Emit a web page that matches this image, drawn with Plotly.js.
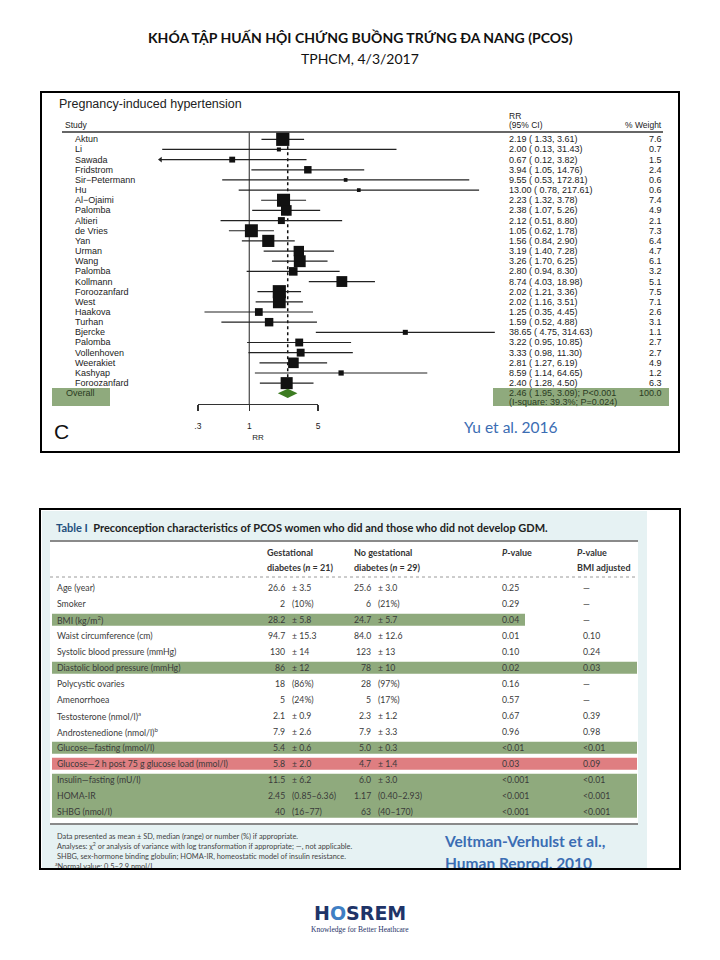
<!DOCTYPE html>
<html><head><meta charset="utf-8">
<script src="https://cdn.plot.ly/plotly-3.0.1.min.js"></script>
<style>html,body{margin:0;padding:0;background:#fff}#chart{width:720px;height:960px}</style>
</head><body><div id="chart"></div>
<script>
// ---------- Forest plot data (Pregnancy-induced hypertension, Yu et al. 2016) ----------
const studies = ['Aktun','Li','Sawada','Fridstrom','Sir\u2212Petermann','Hu','Al\u2212Ojaimi','Palomba','Altieri','de Vries','Yan','Urman','Wang','Palomba','Kollmann','Foroozanfard','West','Haakova','Turhan','Bjercke','Palomba','Vollenhoven','Weerakiet','Kashyap','Foroozanfard'];
const rr     = [2.19,2.00,0.67,3.94,9.55,13.00,2.23,2.38,2.12,1.05,1.56,3.19,3.26,2.80,8.74,2.02,2.02,1.25,1.59,38.65,3.22,3.33,2.81,8.59,2.40];
const ciLow  = [1.33,0.13,0.12,1.05,0.53,0.78,1.32,1.07,0.51,0.62,0.84,1.40,1.70,0.94,4.03,1.21,1.16,0.35,0.52,4.75,0.95,0.98,1.27,1.14,1.28];
const ciHigh = [3.61,31.43,3.82,14.76,172.81,217.61,3.78,5.26,8.80,1.78,2.90,7.28,6.25,8.30,18.98,3.36,3.51,4.45,4.88,314.63,10.85,11.30,6.19,64.65,4.50];
const weights = [7.6,0.7,1.5,2.4,0.6,0.6,7.4,4.9,2.1,7.3,6.4,4.7,6.1,3.2,5.1,7.5,7.1,2.6,3.1,1.1,2.7,2.7,4.9,1.2,6.3];
const overallRR = 2.46, overallLow = 1.95, overallHigh = 3.09;
const overallLine1 = '2.46 ( 1.95, 3.09); P<0.001';
const overallLine2 = '(I-square: 39.3%; P=0.024)';
const overallWeight = '100.0';
const xTickVals = [0.3, 1, 5];
const xTickText = ['.3', '1', '5'];
const xShownMin = 0.125;   // lower display limit of the original plot (arrow beyond)

// ---------- Table data (Veltman-Verhulst et al., Human Reprod. 2010) ----------
const tableRows = ['Age (year)','Smoker','BMI (kg/m<sup>2</sup>)','Waist circumference (cm)','Systolic blood pressure (mmHg)','Diastolic blood pressure (mmHg)','Polycystic ovaries','Amenorrhoea','Testosterone (nmol/l)<sup>a</sup>','Androstenedione (nmol/l)<sup>b</sup>','Glucose\u2014fasting (mmol/l)','Glucose\u20142 h post 75 g glucose load (mmol/l)','Insulin\u2014fasting (mU/l)','HOMA-IR','SHBG (nmol/l)'];
const gdmValues   = ['26.6 \u00b1 3.5','2 (10%)','28.2 \u00b1 5.8','94.7 \u00b1 15.3','130 \u00b1 14','86 \u00b1 12','18 (86%)','5 (24%)','2.1 \u00b1 0.9','7.9 \u00b1 2.6','5.4 \u00b1 0.6','5.8 \u00b1 2.0','11.5 \u00b1 6.2','2.45 (0.85\u20136.36)','40 (16\u201377)'];
const noGdmValues = ['25.6 \u00b1 3.0','6 (21%)','24.7 \u00b1 5.7','84.0 \u00b1 12.6','123 \u00b1 13','78 \u00b1 10','28 (97%)','5 (17%)','2.3 \u00b1 1.2','7.9 \u00b1 3.3','5.0 \u00b1 0.3','4.7 \u00b1 1.4','6.0 \u00b1 3.0','1.17 (0.40\u20132.93)','63 (40\u2013170)'];
const pValues     = ['0.25','0.29','0.04','0.01','0.10','0.02','0.16','0.57','0.67','0.96','<0.01','0.03','<0.001','<0.001','<0.001'];
const pAdjusted   = ['\u2014','\u2014','\u2014','0.10','0.24','0.03','\u2014','\u2014','0.39','0.98','<0.01','0.09','<0.01','<0.001','<0.001'];
const highlightRows = ['', '', 'greenPartial', '', '', 'green', '', '', '', '', 'green', 'red', 'green', 'green', 'green'];

// ---------- geometry / styles ----------
const W = 720, H = 960;
const px = x => x / W, py = y => 1 - y / H;
const F = {left: 150, right: 500, onePx: 249.3, perDecade: 98.3, top: 132, bottom: 404, row0: 139.3, rowH: 10.16};
const T = {top: 509, bottom: 869, row0: 587.7, rowH: 16};
const fForest = 'Liberation Sans, Arial, sans-serif';
const fTable = 'Lato, sans-serif';
const green = '#8faa7d', red = '#df7e81', blueBg = '#e6f2f3';
const n = studies.length;
const idx = studies.map((_, i) => i);
const overallRow = n;

const traces = [];
// CI lines + weighted squares
traces.push({
  type: 'scatter', mode: 'markers', x: rr, y: idx, xaxis: 'x', yaxis: 'y', hoverinfo: 'skip',
  marker: {symbol: 'square', color: '#111', opacity: 1, size: weights.map(w => 4.8 * Math.sqrt(w)), line: {width: 0}},
  error_x: {type: 'data', symmetric: false,
    array: ciHigh.map((h, i) => h - rr[i]),
    arrayminus: ciLow.map((l, i) => rr[i] - Math.max(l, xShownMin)),
    thickness: 1.2, width: 0, color: '#222'},
  cliponaxis: false
});
// arrows where CI is truncated
const cut = idx.filter(i => ciLow[i] < xShownMin);
traces.push({
  type: 'scatter', mode: 'markers', x: cut.map(() => xShownMin), y: cut, xaxis: 'x', yaxis: 'y', hoverinfo: 'skip',
  marker: {symbol: 'triangle-left', size: 5, color: '#222', opacity: 1}, cliponaxis: false
});
// overall diamond
const dh = 0.46;
traces.push({
  type: 'scatter', mode: 'lines', fill: 'toself', xaxis: 'x', yaxis: 'y', hoverinfo: 'skip',
  x: [overallLow, overallRR, overallHigh, overallRR, overallLow],
  y: [overallRow, overallRow - dh, overallRow, overallRow + dh, overallRow],
  fillcolor: '#3d7c22', line: {width: 0, color: '#3d7c22'}
});
// carrier for the tick axis
traces.push({type: 'scatter', mode: 'markers', x: [1], y: [0], xaxis: 'x3', yaxis: 'y', marker: {opacity: 0}, hoverinfo: 'skip'});

// clipped text in the table box (citation & last footnote cut by the frame)
traces.push({
  type: 'scatter', mode: 'text', xaxis: 'x2', yaxis: 'y2', cliponaxis: true, hoverinfo: 'skip',
  x: [445, 445], y: [843, 865.5], text: ['Veltman-Verhulst et al.,', 'Human Reprod. 2010'],
  textposition: 'middle right', textfont: {family: fTable, size: 15.5, color: '#3b6db3', weight: 'bold'}
});
traces.push({
  type: 'scatter', mode: 'text', xaxis: 'x2', yaxis: 'y2', cliponaxis: true, hoverinfo: 'skip',
  x: [55], y: [867], text: ['<sup>a</sup>Normal value: 0.5\u20132.9 nmol/l.'],
  textposition: 'middle right', textfont: {family: fTable, size: 7.4, color: '#444'}
});

// ---------- shapes ----------
const shapes = [];
// forest: header rule, null line, overall dotted line, overall green boxes
shapes.push({type: 'line', xref: 'paper', yref: 'paper', x0: px(62), x1: px(663), y0: py(F.top), y1: py(F.top), line: {color: '#333', width: 1.5}, layer: 'below'});
shapes.push({type: 'line', xref: 'x', yref: 'y domain', x0: 1, x1: 1, y0: 0, y1: 1, line: {color: '#555', width: 1.3}, layer: 'below'});
shapes.push({type: 'line', xref: 'x', yref: 'y', x0: overallRR, x1: overallRR, y0: -0.5, y1: overallRow, line: {color: '#111', width: 1.5, dash: 'dot'}, layer: 'below'});
shapes.push({type: 'rect', xref: 'paper', yref: 'paper', x0: px(52), x1: px(110), y0: py(406), y1: py(388), fillcolor: green, line: {width: 0}, layer: 'below'});
shapes.push({type: 'rect', xref: 'paper', yref: 'paper', x0: px(493), x1: px(669), y0: py(406), y1: py(388), fillcolor: green, line: {width: 0}, layer: 'below'});
// table background
shapes.push({type: 'rect', xref: 'x2', yref: 'y2', x0: 42, x1: 647, y0: 511, y1: 869, fillcolor: blueBg, line: {width: 0}, layer: 'below'});
shapes.push({type: 'rect', xref: 'x2', yref: 'y2', x0: 50, x1: 638, y0: 542, y1: 823, fillcolor: '#ffffff', line: {width: 0}, layer: 'below'});
// row highlights (consecutive rows of one kind merge into one band)
const rowY = i => T.row0 + T.rowH * i;
let i0 = 0;
while (i0 < highlightRows.length) {
  const k = highlightRows[i0];
  let i1 = i0;
  while (i1 + 1 < highlightRows.length && highlightRows[i1 + 1] === k) i1++;
  if (k) {
    shapes.push({type: 'rect', xref: 'x2', yref: 'y2', x0: 52, x1: k === 'greenPartial' ? 525 : 637,
      y0: rowY(i0) - 6, y1: rowY(i1) + 6, fillcolor: k === 'red' ? red : green, line: {width: 0}, layer: 'below'});
  }
  i0 = i1 + 1;
}
shapes.push({type: 'line', xref: 'x2', yref: 'y2', x0: 50, x1: 638, y0: 541, y1: 541, line: {color: '#8a8a8a', width: 2}, layer: 'below'});
shapes.push({type: 'line', xref: 'x2', yref: 'y2', x0: 50, x1: 638, y0: 577, y1: 577, line: {color: '#9a9a9a', width: 1, dash: 'dot'}, layer: 'below'});
shapes.push({type: 'line', xref: 'x2', yref: 'y2', x0: 50, x1: 638, y0: 824, y1: 824, line: {color: '#8a8a8a', width: 2}, layer: 'below'});
// frames
shapes.push({type: 'rect', xref: 'paper', yref: 'paper', x0: px(41), x1: px(679), y0: py(452), y1: py(92), line: {color: '#000', width: 2}, fillcolor: 'rgba(0,0,0,0)'});
shapes.push({type: 'rect', xref: 'paper', yref: 'paper', x0: px(40), x1: px(680), y0: py(869), y1: py(509), line: {color: '#000', width: 2}, fillcolor: 'rgba(0,0,0,0)'});

// ---------- annotations ----------
const ann = [];
const A = (o) => ann.push(Object.assign({showarrow: false, xanchor: 'left', yanchor: 'middle'}, o));
// slide header
A({xref: 'paper', yref: 'paper', x: 0.5, y: py(37), xanchor: 'center', text: '<b>KH\u00d3A T\u1eacP HU\u1ea4N H\u1ed8I CH\u1ee8NG BU\u1ed2NG TR\u1ee8NG \u0110A NANG (PCOS)</b>', font: {family: fTable, size: 14, color: '#111'}});
A({xref: 'paper', yref: 'paper', x: 0.5, y: py(58), xanchor: 'center', text: 'TPHCM, 4/3/2017', font: {family: fTable, size: 14, color: '#111'}});
// forest titles / headers
A({xref: 'paper', yref: 'paper', x: px(57), y: py(104), text: 'Pregnancy-induced hypertension', font: {family: fForest, size: 12.5, color: '#222'}});
A({xref: 'paper', yref: 'paper', x: px(63), y: py(125), text: 'Study', font: {family: fForest, size: 8.5, color: '#222'}});
A({xref: 'paper', yref: 'paper', x: px(507), y: py(116.5), text: 'RR', font: {family: fForest, size: 8.5, color: '#222'}});
A({xref: 'paper', yref: 'paper', x: px(507), y: py(125), text: '(95% CI)', font: {family: fForest, size: 8.5, color: '#222'}});
A({xref: 'paper', yref: 'paper', x: px(664), y: py(125), xanchor: 'right', text: '% Weight', font: {family: fForest, size: 8.5, color: '#222'}});
idx.forEach(i => {
  A({xref: 'paper', yref: 'y', x: px(73), y: i, text: studies[i], font: {family: fForest, size: 9, color: '#222'}});
  A({xref: 'paper', yref: 'y', x: px(507), y: i, text: `${rr[i].toFixed(2)} ( ${ciLow[i].toFixed(2)}, ${ciHigh[i].toFixed(2)})`, font: {family: fForest, size: 9, color: '#222'}});
  A({xref: 'paper', yref: 'y', x: px(664), y: i, xanchor: 'right', text: weights[i].toFixed(1), font: {family: fForest, size: 9, color: '#222'}});
});
A({xref: 'paper', yref: 'y', x: px(64), y: overallRow - 0.05, text: 'Overall', font: {family: fForest, size: 9, color: '#2a3a22'}});
A({xref: 'paper', yref: 'y', x: px(507), y: overallRow, text: overallLine1, font: {family: fForest, size: 9, color: '#2a3a22'}});
A({xref: 'paper', yref: 'y', x: px(507), y: overallRow + 0.83, text: overallLine2, font: {family: fForest, size: 9, color: '#2a3a22'}});
A({xref: 'paper', yref: 'y', x: px(664), y: overallRow, xanchor: 'right', text: overallWeight, font: {family: fForest, size: 9, color: '#2a3a22'}});
A({xref: 'paper', yref: 'paper', x: px(52), y: py(432), text: 'C', font: {family: fForest, size: 21, color: '#111'}});
A({xref: 'paper', yref: 'paper', x: px(462), y: py(427), text: 'Yu et al. 2016', font: {family: fTable, size: 15.5, color: '#3b6db3'}});

// table
const tf = (size, color) => ({family: fTable, size: size, color: color || '#3a3a3a'});
A({xref: 'x2', yref: 'y2', x: 54, y: 527, text: '<b><span style="color:#1f4f7d">Table I</span>\u2002Preconception characteristics of PCOS women who did and those who did not develop GDM.</b>', font: tf(11, '#222')});
A({xref: 'x2', yref: 'y2', x: 265, y: 552, text: '<b>Gestational</b>', font: tf(9, '#333')});
A({xref: 'x2', yref: 'y2', x: 265, y: 567, text: '<b>diabetes (<i>n</i> = 21)</b>', font: tf(9, '#333')});
A({xref: 'x2', yref: 'y2', x: 352, y: 552, text: '<b>No gestational</b>', font: tf(9, '#333')});
A({xref: 'x2', yref: 'y2', x: 352, y: 567, text: '<b>diabetes (<i>n</i> = 29)</b>', font: tf(9, '#333')});
A({xref: 'x2', yref: 'y2', x: 500, y: 552, text: '<b><i>P</i>-value</b>', font: tf(9, '#333')});
A({xref: 'x2', yref: 'y2', x: 575, y: 552, text: '<b><i>P</i>-value</b>', font: tf(9, '#333')});
A({xref: 'x2', yref: 'y2', x: 575, y: 567, text: '<b>BMI adjusted</b>', font: tf(9, '#333')});
const split = s => { const k = s.indexOf(' '); return [s.slice(0, k), s.slice(k + 1)]; };
tableRows.forEach((lab, i) => {
  const y = rowY(i), f = tf(8.7);
  A({xref: 'x2', yref: 'y2', x: 55, y: y, text: lab, font: f});
  const [g1, g2] = split(gdmValues[i]);
  A({xref: 'x2', yref: 'y2', x: 287, y: y, xanchor: 'right', text: g1, font: f});
  A({xref: 'x2', yref: 'y2', x: 289.5, y: y, text: g2, font: f});
  const [n1, n2] = split(noGdmValues[i]);
  A({xref: 'x2', yref: 'y2', x: 373, y: y, xanchor: 'right', text: n1, font: f});
  A({xref: 'x2', yref: 'y2', x: 375.5, y: y, text: n2, font: f});
  A({xref: 'x2', yref: 'y2', x: 500, y: y, text: pValues[i], font: f});
  A({xref: 'x2', yref: 'y2', x: 581, y: y, text: pAdjusted[i], font: f});
});
A({xref: 'x2', yref: 'y2', x: 55, y: 836, text: 'Data presented as mean \u00b1 SD, median (range) or number (%) if appropriate.', font: tf(7.4, '#444')});
A({xref: 'x2', yref: 'y2', x: 55, y: 846, text: 'Analyses: \u03c7<sup>2</sup> or analysis of variance with log transformation if appropriate; \u2014, not applicable.', font: tf(7.4, '#444')});
A({xref: 'x2', yref: 'y2', x: 55, y: 856, text: 'SHBG, sex-hormone binding globulin; HOMA-IR, homeostatic model of insulin resistance.', font: tf(7.4, '#444')});
// logo
A({xref: 'paper', yref: 'paper', x: 0.5, y: py(913), xanchor: 'center', text: '<b>H<span style="color:#3f7fc4">O</span>SREM</b>', font: {family: 'DejaVu Sans, sans-serif', size: 19, color: '#1f3468'}});
A({xref: 'paper', yref: 'paper', x: 0.5, y: py(929), xanchor: 'center', text: 'Knowledge for Better Heathcare', font: {family: 'Liberation Serif, serif', size: 7.5, color: '#1f3468'}});

const layout = {
  width: W, height: H, margin: {l: 0, r: 0, t: 0, b: 0, pad: 0},
  paper_bgcolor: '#ffffff', plot_bgcolor: 'rgba(0,0,0,0)', showlegend: false,
  xaxis: {type: 'log', domain: [px(F.left), px(F.right)],
    range: [(F.left - F.onePx) / F.perDecade, (F.right - F.onePx) / F.perDecade],
    visible: false, anchor: 'y', fixedrange: true},
  yaxis: {domain: [py(F.bottom), py(F.top)],
    range: [(F.bottom - F.row0) / F.rowH, (F.top - F.row0) / F.rowH],
    visible: false, anchor: 'x', fixedrange: true},
  xaxis3: {type: 'log', anchor: 'y',
    domain: [px(F.onePx + Math.log10(xTickVals[0]) * F.perDecade), px(F.onePx + Math.log10(xTickVals[xTickVals.length - 1]) * F.perDecade)],
    range: [Math.log10(xTickVals[0]), Math.log10(xTickVals[xTickVals.length - 1])],
    showline: true, linecolor: '#333', linewidth: 1.2, ticks: 'outside', ticklen: 6, tickwidth: 1.2, tickcolor: '#333',
    tickmode: 'array', tickvals: xTickVals, ticktext: xTickText, showgrid: false, zeroline: false,
    tickfont: {family: fForest, size: 8.5, color: '#222'}, ticklabelstandoff: 8,
    title: {text: 'RR', font: {family: fForest, size: 8, color: '#222'}, standoff: 4}, fixedrange: true},
  xaxis2: {domain: [0, 1], range: [0, W], visible: false, anchor: 'y2', fixedrange: true},
  yaxis2: {domain: [py(T.bottom), py(T.top)], range: [T.bottom, T.top], visible: false, anchor: 'x2', fixedrange: true},
  shapes: shapes, annotations: ann
};
Plotly.newPlot('chart', traces, layout, {staticPlot: true, displayModeBar: false});
</script></body></html>
